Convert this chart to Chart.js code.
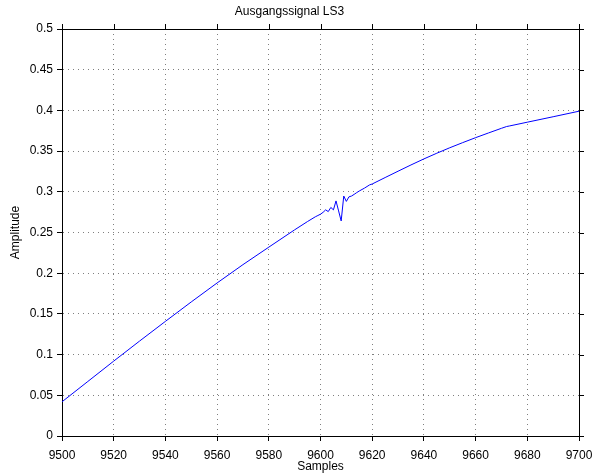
<!DOCTYPE html>
<html>
<head>
<meta charset="utf-8">
<script src="https://cdn.jsdelivr.net/npm/chart.js@4/dist/chart.umd.min.js"></script>
<style>
  html, body { margin: 0; padding: 0; background: #fff; }
  #wrap { width: 592px; height: 475px; }
</style>
</head>
<body>
<div id="wrap"><canvas id="c" width="592" height="475"></canvas></div>
<script>
// Output signal of loudspeaker channel LS3 (amplitude over sample index)
const samples = [
  9500, 9510, 9520, 9530, 9540, 9550, 9560, 9570, 9580, 9590,
  9595, 9598, 9599, 9600, 9601, 9602, 9603, 9604, 9605, 9606,
  9607, 9608, 9609, 9610, 9611, 9612, 9613, 9614, 9615, 9617,
  9618, 9619, 9620, 9625, 9630, 9635, 9640, 9645, 9650, 9655,
  9660, 9665, 9670, 9672, 9673, 9680, 9690, 9700
];
const amplitude = [
  0.0420, 0.0670, 0.0920, 0.1166, 0.1408, 0.1647, 0.1880, 0.2105, 0.2320, 0.2533,
  0.2635, 0.2693, 0.2709, 0.2725, 0.2748, 0.2778, 0.2757, 0.2808, 0.2778, 0.2888,
  0.2765, 0.2642, 0.2948, 0.2882, 0.2938, 0.2948, 0.2968, 0.2990, 0.3010, 0.3045,
  0.3065, 0.3085, 0.3096, 0.3175, 0.3253, 0.3330, 0.3404, 0.3474, 0.3541, 0.3604,
  0.3665, 0.3723, 0.3780, 0.3802, 0.3808, 0.3855, 0.3922, 0.3990
];
const xTicks = [9500, 9520, 9540, 9560, 9580, 9600, 9620, 9640, 9660, 9680, 9700];
const yTicks = [0, 0.05, 0.1, 0.15, 0.2, 0.25, 0.3, 0.35, 0.4, 0.45, 0.5];
const yTickLabels = ['0', '0.05', '0.1', '0.15', '0.2', '0.25', '0.3', '0.35', '0.4', '0.45', '0.5'];

const FONT = 'Liberation Sans, Arial, Helvetica, sans-serif';
const TICK_LEN = 5;

// Closed box with outward tick marks on the top and right sides too
const boxPlugin = {
  id: 'box',
  afterDraw(chart) {
    const {ctx, chartArea: a, scales: {x, y}} = chart;
    ctx.save();
    ctx.strokeStyle = '#000';
    ctx.lineWidth = 1;
    ctx.beginPath();
    ctx.moveTo(a.left, a.top + 0.5);
    ctx.lineTo(a.right + 1, a.top + 0.5);
    ctx.moveTo(a.right + 0.5, a.top);
    ctx.lineTo(a.right + 0.5, a.bottom + 1);
    xTicks.forEach(v => {
      const px = Math.round(x.getPixelForValue(v)) + 0.5;
      ctx.moveTo(px, a.top);
      ctx.lineTo(px, a.top - TICK_LEN);
    });
    yTicks.forEach(v => {
      const py = Math.round(y.getPixelForValue(v)) + 0.5;
      ctx.moveTo(a.right, py);
      ctx.lineTo(a.right + TICK_LEN, py);
    });
    ctx.stroke();
    ctx.restore();
  }
};

new Chart(document.getElementById('c'), {
  type: 'line',
  data: {
    datasets: [{
      data: samples.map((s, i) => ({x: s, y: amplitude[i]})),
      borderColor: '#0000ff',
      borderWidth: 1,
      pointRadius: 0,
      tension: 0,
      fill: false
    }]
  },
  options: {
    responsive: false,
    animation: false,
    events: [],
    layout: { padding: { left: 0, right: 13, top: 0, bottom: 0 } },
    plugins: {
      legend: { display: false },
      tooltip: { enabled: false },
      title: {
        display: true,
        text: 'Ausgangssignal LS3',
        color: '#000',
        font: { family: FONT, size: 12, weight: 'normal' },
        padding: { top: 4, bottom: 10.6 }
      }
    },
    scales: {
      x: {
        type: 'linear',
        min: 9500,
        max: 9700,
        afterBuildTicks: s => { s.ticks = xTicks.map(v => ({value: v})); },
        afterFit: s => { s.height = 39; s.paddingLeft = 0; s.paddingRight = 0; },
        ticks: {
          color: '#000',
          font: { family: FONT, size: 12 },
          padding: 7,
          maxRotation: 0,
          autoSkip: false,
          callback: v => String(v)
        },
        grid: {
          color: 'rgba(0,0,0,0.5)',
          tickColor: '#000',
          tickLength: TICK_LEN,
          lineWidth: 1
        },
        border: { display: true, color: '#000', width: 1, dash: [1, 4] },
        title: {
          display: true,
          text: 'Samples',
          color: '#000',
          font: { family: FONT, size: 12 },
          padding: { top: 0, bottom: 1 }
        }
      },
      y: {
        type: 'linear',
        min: 0,
        max: 0.5,
        afterBuildTicks: s => { s.ticks = yTicks.map(v => ({value: v})); },
        afterFit: s => { s.width = 62; s.paddingTop = 0; s.paddingBottom = 0; },
        ticks: {
          color: '#000',
          font: { family: FONT, size: 12 },
          padding: 4,
          autoSkip: false,
          callback: (v, i) => yTickLabels[i]
        },
        grid: {
          color: 'rgba(0,0,0,0.5)',
          tickColor: '#000',
          tickLength: TICK_LEN,
          lineWidth: 1
        },
        border: { display: true, color: '#000', width: 1, dash: [1, 4] },
        title: {
          display: true,
          text: 'Amplitude',
          color: '#000',
          font: { family: FONT, size: 12 },
          padding: { top: 8, bottom: 0 }
        }
      }
    }
  },
  plugins: [boxPlugin]
});
</script>
</body>
</html>
